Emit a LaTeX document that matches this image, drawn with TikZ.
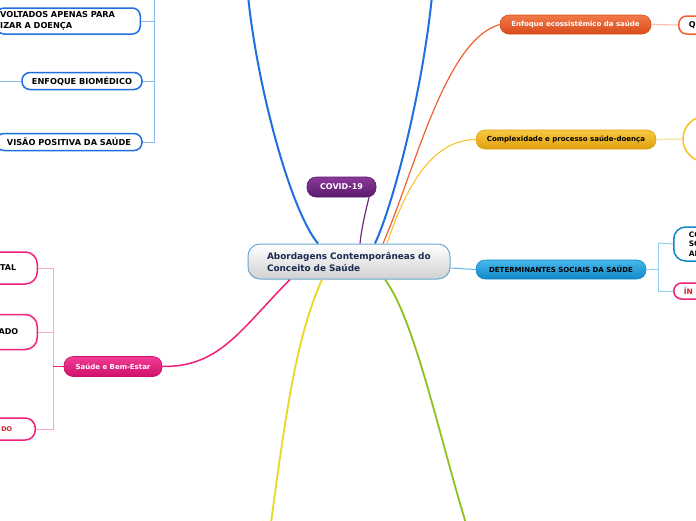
\documentclass[tikz,border=0pt]{standalone}
\usepackage{fontspec}
\setmainfont{DejaVu Sans}
\definecolor{bline}{HTML}{1F6FE0}
\definecolor{bbrk}{HTML}{8CB8F0}
\definecolor{cborder}{HTML}{6AA8D8}
\definecolor{navy}{HTML}{1A2A50}
\definecolor{purpT}{HTML}{8A3A9A}
\definecolor{purpB}{HTML}{5A1A6A}
\definecolor{purpL}{HTML}{6A2A80}
\definecolor{oraT}{HTML}{F27A4A}
\definecolor{oraB}{HTML}{D84A1A}
\definecolor{oraL}{HTML}{F06030}
\definecolor{oraP}{HTML}{F8C0B0}
\definecolor{yelT}{HTML}{F8C840}
\definecolor{yelB}{HTML}{E0A010}
\definecolor{yelL}{HTML}{F8C020}
\definecolor{yelP}{HTML}{F8E0A0}
\definecolor{detT}{HTML}{48B8EC}
\definecolor{detB}{HTML}{1088C8}
\definecolor{detL}{HTML}{60B8E8}
\definecolor{detP}{HTML}{90D0F0}
\definecolor{pinkT}{HTML}{F03C96}
\definecolor{pinkB}{HTML}{D0106A}
\definecolor{pinkL}{HTML}{F0207A}
\definecolor{pinkP}{HTML}{F8A8CC}
\definecolor{redT}{HTML}{D0202A}
\definecolor{yline}{HTML}{E8D820}
\definecolor{gline}{HTML}{90C020}
\tikzset{
  pill/.style={rounded corners=9pt, draw=#1, line width=0.6pt, inner sep=0pt,
    font=\bfseries\fontsize{7}{8}\selectfont, minimum height=19pt},
  obox/.style={rounded corners=8pt, draw=#1, fill=white, line width=1.5pt,
    font=\bfseries\fontsize{8.2}{9}\selectfont},
  brk/.style={draw=#1, line width=1pt},
}
\begin{document}
\begin{tikzpicture}[x=1pt,y=-1pt]
\useasboundingbox (0,0) rectangle (696,520);
\clip (0,0) rectangle (696,520);
\fill[white] (0,0) rectangle (696,520);

% central
\node[rounded corners=12pt, draw=cborder, line width=1pt, top color=white, bottom color=black!18,
  minimum width=202pt, minimum height=35pt, text width=164pt, align=left, inner sep=0pt,
  font=\bfseries\fontsize{8.9}{12}\selectfont, text=navy] (c) at (349,261.5)
  {Abordagens Contemporâneas do\\Conceito de Saúde};

% COVID
\node[pill=purpB, top color=purpT, bottom color=purpB, text=white, minimum width=69pt,
  minimum height=20pt, font=\bfseries\fontsize{8}{9}\selectfont] (covid) at (341.5,187) {COVID-19};

% orange
\node[pill=oraB, top color=oraT, bottom color=oraB, text=white, minimum width=151pt] (eco) at (575.5,24.5)
  {Enfoque ecossistêmico da saúde};
\node[obox=oraL, anchor=west, minimum height=18pt, text width=30pt, align=left, inner xsep=10pt,
  font=\bfseries\fontsize{8}{9}\selectfont] (q) at (678,25) {Q};

% yellow-orange
\node[pill=yelB, top color=yelT, bottom color=yelB, text=black, minimum width=180pt] (cx) at (566,139.5)
  {Complexidade e processo saúde-doença};
\node[circle, draw=yelL, fill=white, line width=1.5pt, minimum size=46pt, inner sep=0pt] (circ) at (706,139) {};

% determinantes
\node[pill=detB, top color=detT, bottom color=detB, text=black, minimum width=170pt] (det) at (561,269.5)
  {DETERMINANTES SOCIAIS DA SAÚDE};
\node[obox=detB, anchor=west, minimum height=34pt, rounded corners=12pt, text width=20pt, align=left,
  inner xsep=15pt, font=\bfseries\fontsize{7.5}{9.5}\selectfont] (cso) at (673,244) {CO\\SO\\AI};
\node[obox=pinkL, anchor=west, minimum height=16pt, text width=20pt, align=left, inner xsep=10pt,
  text=redT, font=\bfseries\fontsize{7.5}{9}\selectfont] (in) at (673,291) {ÍN};

% left blue nodes
\node[obox=bline, anchor=east, minimum height=26pt, text width=136pt, align=left, inner xsep=4pt,
  font=\bfseries\fontsize{8.2}{10.5}\selectfont] (b1) at (141,21) {VOLTADOS APENAS PARA\\IZAR A DOENÇA};
\node[obox=bline, minimum width=120pt, minimum height=17pt, inner sep=0pt] (b2) at (82,81) {ENFOQUE BIOMÉDICO};
\node[obox=bline, minimum width=146pt, minimum height=17pt, inner sep=0pt] (b3) at (69,142) {VISÃO POSITIVA DA SAÚDE};

% pink
\node[pill=pinkB, top color=pinkT, bottom color=pinkB, text=white, minimum width=98pt, minimum height=20pt] (sb) at (113,366.5)
  {Saúde e Bem-Estar};
\node[obox=pinkL, anchor=east, minimum height=32pt, text width=60pt, align=right, inner xsep=21pt,
  rounded corners=12pt, font=\bfseries\fontsize{8}{9}\selectfont] (p1) at (38,268) {NTAL};
\node[obox=pinkL, anchor=east, minimum height=35pt, text width=60pt, align=right, inner xsep=19pt,
  rounded corners=12pt, font=\bfseries\fontsize{8}{9}\selectfont] (p2) at (38,332) {ADO};
\node[obox=pinkL, anchor=east, minimum height=22pt, text width=60pt, align=right, inner xsep=23pt,
  rounded corners=10pt, text=redT, font=\bfseries\fontsize{6.5}{8}\selectfont] (p3) at (36,429) {DO};

% coordinates
\coordinate (btl) at (247,-15);
\coordinate (btr) at (433,-15);
\coordinate (ybot) at (270,530);
\coordinate (gbot) at (468,530);
\coordinate (bbr) at (154,-10);
\coordinate (b2l) at (-5,81);
\coordinate (pbr) at (53,268);
\coordinate (dbr) at (658,243);

% main connectors
\draw[bline, line width=2pt] ([xshift=-31pt]c.north) .. controls (290,210) and (255,80) .. (btl);
\draw[bline, line width=2pt] ([xshift=26pt]c.north) .. controls (395,200) and (425,80) .. (btr);
\draw[purpL, line width=1.2pt] ([xshift=11pt]c.north) .. controls (362,225) and (366,210) .. ([xshift=27.5pt]covid.south);
\draw[oraL, line width=1.2pt] ([xshift=34pt]c.north) .. controls (415,170) and (445,40) .. (eco.west);
\draw[yelL, line width=1pt] ([xshift=38pt]c.north) .. controls (405,190) and (430,140) .. (cx.west);
\draw[detL, line width=1pt] ([yshift=-6.5pt]c.east) -- (det.west);
\draw[pinkL, line width=1.5pt] ([xshift=-59pt]c.south) .. controls (240,330) and (220,367) .. (sb.east);
\draw[yline, line width=1.8pt] ([xshift=-27pt]c.south) .. controls (295,340) and (285,420) .. (ybot);
\draw[gline, line width=1.8pt] ([xshift=36pt]c.south) .. controls (415,320) and (440,440) .. (gbot);

% secondary
\draw[oraP, line width=1.2pt] (eco.east) -- (q.west);
\draw[yelP, line width=1.2pt] (cx.east) -- (circ.west);
\draw[brk=detP] (det.east) -- (det.east -| dbr);
\draw[brk=detP] (dbr) -- (dbr |- in.west) -- (in.west);
\draw[brk=detP] (dbr) -- (cso.west);

\draw[brk=bbrk] (bbr) -- (bbr |- b3.east) -- (b3.east);
\draw[brk=bbrk] (b1.east) -- (b1.east -| bbr);
\draw[brk=bbrk] (b2.east) -- (b2.east -| bbr);
\draw[brk=bbrk] (b2.west) -- (b2l);

\draw[brk=pinkP] (p1.east) -- (pbr) -- (pbr |- p3.east) -- (p3.east);
\draw[brk=pinkP] (p2.east) -- (p2.east -| pbr);
\draw[brk=pinkL] (sb.west) -- (sb.west -| pbr);
\end{tikzpicture}
\end{document}
